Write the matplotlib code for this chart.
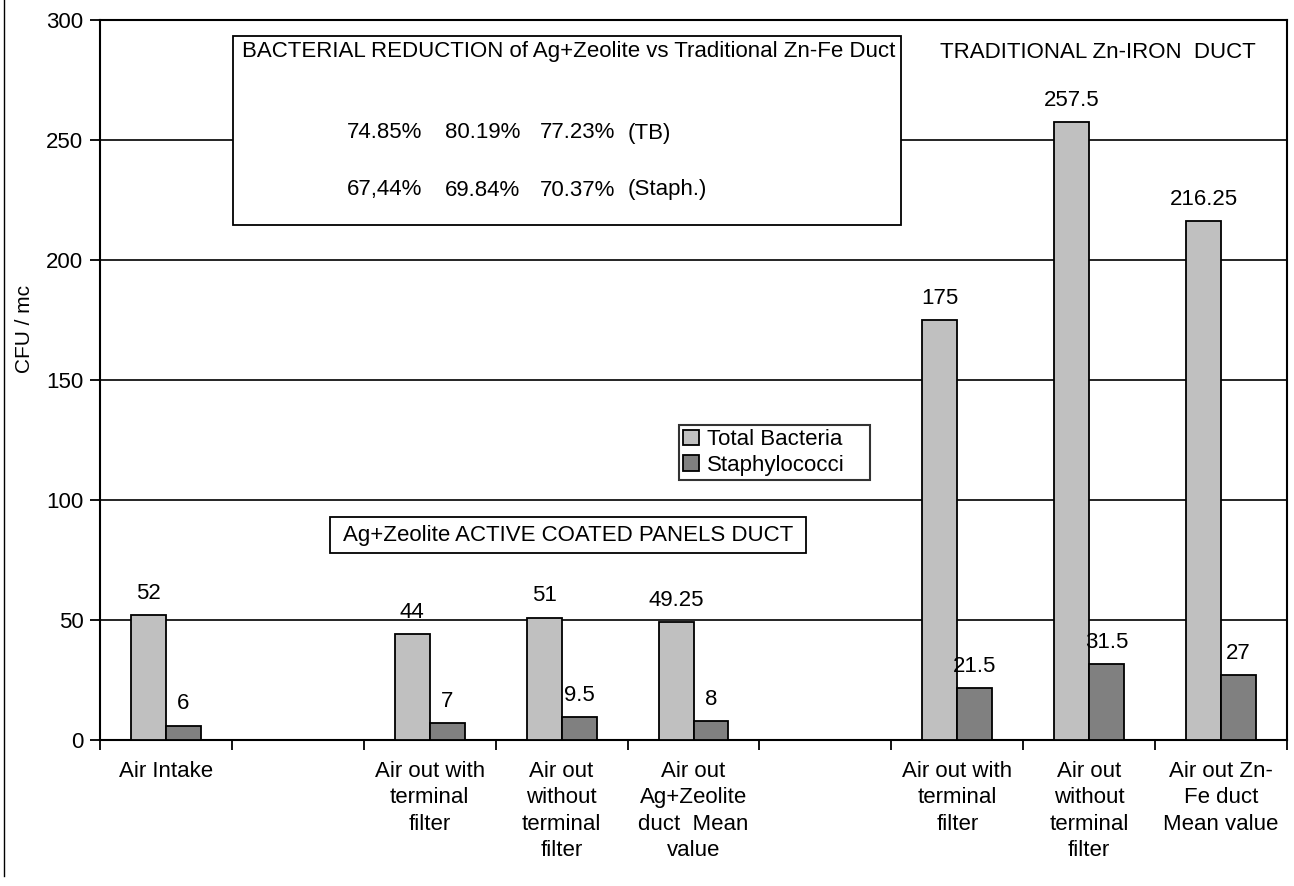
import numpy as np
import matplotlib.pyplot as plt
from matplotlib.lines import Line2D

categories = [
    "Air Intake",
    "",
    "Air out with\nterminal\nfilter",
    "Air out\nwithout\nterminal\nfilter",
    "Air out\nAg+Zeolite\nduct  Mean\nvalue",
    "",
    "Air out with\nterminal\nfilter",
    "Air out\nwithout\nterminal\nfilter",
    "Air out Zn-\nFe duct\nMean value",
]
total_bacteria = [52, np.nan, 44, 51, 49.25, np.nan, 175, 257.5, 216.25]
staphylococci = [6, np.nan, 7, 9.5, 8, np.nan, 21.5, 31.5, 27]
tb_labels = ["52", "", "44", "51", "49.25", "", "175", "257.5", "216.25"]
st_labels = ["6", "", "7", "9.5", "8", "", "21.5", "31.5", "27"]

reduction_tb = ["74.85%", "80.19%", "77.23%", "(TB)"]
reduction_st = ["67,44%", "69.84%", "70.37%", "(Staph.)"]

plt.rcParams["font.family"] = ["Liberation Sans", "DejaVu Sans"]
FS = 16

fig = plt.figure(figsize=(12.94, 8.86), dpi=100)
ax = fig.add_axes([100 / 1294, 146 / 886, 1187 / 1294, 720 / 886])

x = np.arange(len(categories))
w = 0.265
ax.bar(x - w / 2, total_bacteria, w, color="#c0c0c0", edgecolor="black",
       linewidth=1.3, label="Total Bacteria", zorder=3)
ax.bar(x + w / 2, staphylococci, w, color="#808080", edgecolor="black",
       linewidth=1.3, label="Staphylococci", zorder=3)

for i in range(len(categories)):
    if tb_labels[i]:
        ax.annotate(tb_labels[i], (x[i] - w / 2, total_bacteria[i]),
                    xytext=(0, 8), textcoords="offset points",
                    ha="center", va="bottom", fontsize=FS)
        ax.annotate(st_labels[i], (x[i] + w / 2, staphylococci[i]),
                    xytext=(0, 8), textcoords="offset points",
                    ha="center", va="bottom", fontsize=FS)

ax.set_xlim(-0.5, len(categories) - 0.5)
ax.set_ylim(0, 300)
ax.set_yticks(range(0, 301, 50))
ax.set_xticks(np.arange(len(categories) + 1) - 0.5)
ax.set_xticklabels([])
ax.set_xticks(x, minor=True)
ax.set_xticklabels(categories, minor=True, fontsize=FS, linespacing=1.34,
                   va="top")
ax.tick_params(axis="x", which="minor", length=0, pad=15)
ax.tick_params(axis="x", which="major", length=7, width=1.3, direction="out")
ax.tick_params(axis="y", length=7, width=1.3, labelsize=FS, direction="out",
               pad=5)
ax.grid(axis="y", color="black", linewidth=1.2, zorder=0)
for s in ax.spines.values():
    s.set_linewidth(1.5)
    s.set_color("black")

ax.set_ylabel("CFU / mc", fontsize=15)
ax.yaxis.set_label_coords(-66 / 1187, (740 - 329) / 720)

leg = ax.legend(loc="upper left",
                bbox_to_anchor=(579 / 1187, (740 - 483) / 720, 191 / 1187, 58 / 720),
                mode="expand", fontsize=FS, frameon=True, fancybox=False,
                handlelength=0.7, handleheight=0.7, handletextpad=0.35,
                borderpad=0.2, labelspacing=0.2, borderaxespad=0)
leg.get_frame().set_edgecolor("black")
leg.get_frame().set_linewidth(1.5)

# boxed annotation: bacterial reduction
box = plt.Rectangle((233 / 1294, (886 - 225) / 886), 668 / 1294, 189 / 886,
                    transform=fig.transFigure, facecolor="white",
                    edgecolor="black", linewidth=1.3, zorder=5)
fig.add_artist(box)
fig.text(242 / 1294, (886 - 52) / 886,
         "BACTERIAL REDUCTION of Ag+Zeolite vs Traditional Zn-Fe Duct",
         fontsize=FS, va="center", ha="left", zorder=6)
cols = [347, 445, 540, 628]
for cx, t1, t2 in zip(cols, reduction_tb, reduction_st):
    fig.text(cx / 1294, (886 - 133) / 886, t1, fontsize=FS, va="center", zorder=6)
    fig.text(cx / 1294, (886 - 190) / 886, t2, fontsize=FS, va="center", zorder=6)

fig.text(1098 / 1294, (886 - 52) / 886, "TRADITIONAL Zn-IRON  DUCT",
         fontsize=FS, va="center", ha="center")

box2 = plt.Rectangle((330 / 1294, (886 - 553) / 886), 476 / 1294, 36 / 886,
                     transform=fig.transFigure, facecolor="white",
                     edgecolor="black", linewidth=1.3, zorder=5)
fig.add_artist(box2)
fig.text(568 / 1294, (886 - 535) / 886, "Ag+Zeolite ACTIVE COATED PANELS DUCT",
         fontsize=FS, va="center", ha="center", zorder=6)

fig.add_artist(Line2D([4 / 1294, 4 / 1294], [10 / 886, 1], color="black",
                      linewidth=1, transform=fig.transFigure))

fig.savefig("out.png", dpi=100)
